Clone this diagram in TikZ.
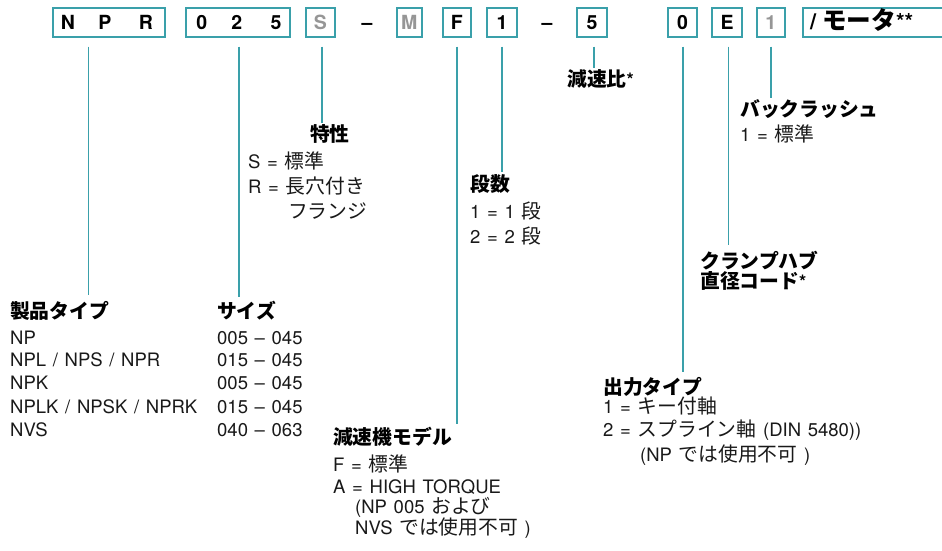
\documentclass[tikz,border=0pt]{standalone}
\usepackage{fontspec}
\setmainfont[WordSpace=1.3]{TeX Gyre Heros}
\newfontfamily\jp[Scale=1.07]{Noto Sans CJK JP}
\definecolor{tealc}{RGB}{58,160,170}
\definecolor{txt}{RGB}{25,25,25}
\definecolor{gry}{RGB}{150,150,150}
\begin{document}
\begin{tikzpicture}[x=1pt,y=-1pt,
  codebox/.style={draw=tealc, line width=1.8pt, minimum height=29pt, inner sep=0pt},
  codechar/.style={font=\fontsize{19.5}{19.5}\selectfont\bfseries, text height=14pt, text depth=0pt, inner sep=0pt, text=black},
  grychar/.style={codechar, text=gry},
  conn/.style={draw=tealc, line width=1.6pt},
  lbl/.style={anchor=west, inner sep=0pt, font=\fontsize{18.5}{18.5}\selectfont, text=txt, text height=13.3pt, text depth=0pt},
  hd/.style={lbl, font=\fontsize{18.5}{18.5}\selectfont\bfseries, text=black}
]
\useasboundingbox (0,0) rectangle (942,551);
\fill[white] (0,0) rectangle (942,551);

% ---- code boxes ----
\node[codebox, minimum width=112.3pt] (bnpr) at (108.85,22.8) {};
\node[codebox, minimum width=104.3pt] (b025) at (237.85,22.8) {};
\node[codebox, minimum width=29.3pt] (bS) at (320.35,22.8) {};
\node[codebox, minimum width=25pt] (bM) at (409.2,22.8) {};
\node[codebox, minimum width=28.3pt] (bF) at (456.85,22.8) {};
\node[codebox, minimum width=29.4pt] (b1) at (502,22.8) {};
\node[codebox, minimum width=29.4pt] (b5) at (592,22.8) {};
\node[codebox, minimum width=28.4pt] (b0) at (682.5,22.8) {};
\node[codebox, minimum width=29.4pt] (bE) at (727,22.8) {};
\node[codebox, minimum width=28.3pt] (bG) at (770.85,22.8) {};
\node[codebox, minimum width=150pt] (bmot) at (877.7,22.8) {};

% ---- code characters ----
\node[codechar] (cN) at (68,23) {N};
\node[codechar] (cP) at (105,23) {P};
\node[codechar] (cR) at (146,23) {R};
\node[codechar] (c0a) at (201.7,23) {0};
\node[codechar] (c2) at (236.7,23) {2};
\node[codechar] (c5a) at (276,23) {5};
\node[grychar] (cS) at (bS) {S};
\node[codechar] (d1) at (367,23) {–};
\node[grychar] (cM) at (bM) {M};
\node[codechar] (cF) at (bF) {F};
\node[codechar] (c1) at (b1) {1};
\node[codechar] (d2) at (547,23) {–};
\node[codechar] (c5) at (b5) {5};
\node[codechar] (c0) at (b0) {0};
\node[codechar] (cE) at (bE) {E};
\node[grychar] (cG) at (bG) {1};
\node[codechar, anchor=west] (cmot) at (810,23) {{\fontsize{22}{22}\selectfont /}\hspace{6pt}{\jp\fontsize{23}{23}\selectfont モータ}{\fontsize{22}{22}\selectfont **}};

% ---- connector coordinates ----
\coordinate (tnpr) at (88.3,46.7);   \coordinate (enpr) at (88.3,295);
\coordinate (t025) at (238.8,46.7);  \coordinate (e025) at (238.8,297);
\coordinate (tS) at (321.7,46.7);    \coordinate (eS) at (321.7,123);
\coordinate (tF) at (456.7,46.7);    \coordinate (eF) at (456.7,424);
\coordinate (t1) at (501.7,46.7);    \coordinate (e1) at (501.7,172);
\coordinate (t5) at (594,46.7);      \coordinate (e5) at (594,68);
\coordinate (t0) at (682.7,46.7);    \coordinate (e0) at (682.7,372);
\coordinate (tE) at (728.3,46.7);    \coordinate (eE) at (728.3,245);
\coordinate (tG) at (770.7,46.7);    \coordinate (eG) at (770.7,98);

\draw[conn] (tnpr) -- (enpr);
\draw[conn] (t025) -- (e025);
\draw[conn] (tS) -- (eS);
\draw[conn] (tF) -- (eF);
\draw[conn] (t1) -- (e1);
\draw[conn] (t5) -- (e5);
\draw[conn] (t0) -- (e0);
\draw[conn] (tE) -- (eE);
\draw[conn] (tG) -- (eG);

% ---- 特性 ----
\node[hd] (hS) at (310,135) {\jp 特性};
\node[lbl] (s1) at (248,162) {S = {\jp 標準}};
\node[lbl] (s2) at (248,187) {R = {\jp 長穴付き}};
\node[lbl] (s3) at (288,212) {\jp フランジ};

% ---- 段数 ----
\node[hd] (h1) at (470,185) {\jp 段数};
\node[lbl] (n1) at (470,212) {1 = 1 {\jp 段}};
\node[lbl] (n2) at (470,237) {2 = 2 {\jp 段}};

% ---- 減速比 ----
\node[hd] (h5) at (567,80) {{\jp 減速比}*};

% ---- バックラッシュ ----
\node[hd] (hG) at (740,110) {\jp バックラッシュ};
\node[lbl] (g1) at (740,135) {1 = {\jp 標準}};

% ---- クランプハブ ----
\node[hd] (hE) at (700,262) {\jp クランプハブ};
\node[hd] (hE2) at (700,282) {{\jp 直径コード}*};

% ---- 出力タイプ ----
\node[hd] (h0) at (603,388) {\jp 出力タイプ};
\node[lbl] (o1) at (603,407) {1 = {\jp キー付軸}};
\node[lbl] (o2) at (603,430) {2 = {\jp スプライン軸} (DIN 5480))};
\node[lbl] (o3) at (640,455) {(NP {\jp では使用不可} )};

% ---- 製品タイプ ----
\node[hd] (hP) at (10,312) {\jp 製品タイプ};
\node[lbl] (p1) at (10,338) {NP};
\node[lbl] (p2) at (10,360) {NPL / NPS / NPR};
\node[lbl] (p3) at (10,383) {NPK};
\node[lbl] (p4) at (10,407) {NPLK / NPSK / NPRK};
\node[lbl] (p5) at (10,430) {NVS};

% ---- サイズ ----
\node[hd] (hZ) at (217,312) {\jp サイズ};
\node[lbl] (z1) at (217,338) {005 – 045};
\node[lbl] (z2) at (217,360) {015 – 045};
\node[lbl] (z3) at (217,383) {005 – 045};
\node[lbl] (z4) at (217,407) {015 – 045};
\node[lbl] (z5) at (217,430) {040 – 063};

% ---- 減速機モデル ----
\node[hd] (hF) at (333,438) {\jp 減速機モデル};
\node[lbl] (f1) at (333,465) {F = {\jp 標準}};
\node[lbl] (f2) at (333,487) {A = HIGH TORQUE};
\node[lbl] (f3) at (355,507) {(NP 005 {\jp および}};
\node[lbl] (f4) at (355,528) {NVS {\jp では使用不可} )};
\end{tikzpicture}
\end{document}
